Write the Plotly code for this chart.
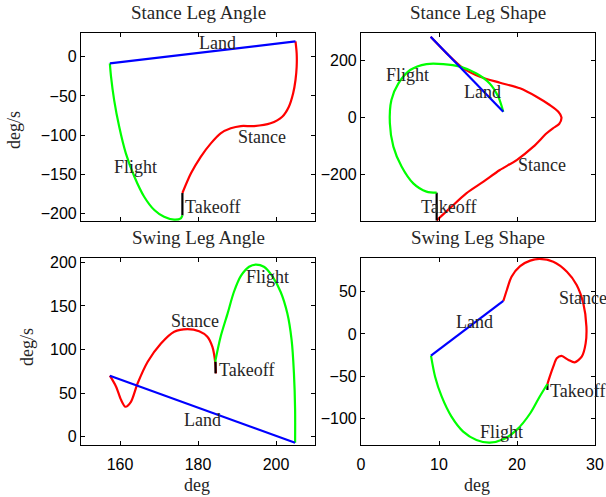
import plotly.graph_objects as go

# ---------------- data ----------------
# Stance Leg Angle (top-left): x = deg, y = deg/s
sla_stance_x = [205.0, 205.3, 205.3, 205.0, 204.4, 203.3, 201.6, 198.6, 194.4, 191.0, 188.4, 185.8, 183.3, 180.7, 178.2, 176.0]
sla_stance_y = [19.5, 4.3, -12.8, -29.7, -46.7, -63.8, -76.6, -85.0, -88.5, -88.5, -91.4, -97.8, -110.6, -127.7, -148.9, -174.0]
sla_takeoff_x = [176.0, 176.0]
sla_takeoff_y = [-174.0, -202.6]
sla_flight_x = [176.0, 175.6, 173.9, 171.3, 168.8, 166.2, 163.7, 161.5, 159.8, 158.5, 157.7, 157.4]
sla_flight_y = [-202.6, -206.3, -208.0, -204.3, -195.7, -178.7, -153.2, -123.3, -89.4, -55.3, -25.5, -8.5]
sla_land_x = [157.4, 205.0]
sla_land_y = [-8.5, 19.5]

# Stance Leg Shape (top-right)
sls_stance_x = [8.93, 10.99, 13.12, 15.26, 17.82, 20.38, 22.5, 24.2, 25.3, 25.7, 25.4, 24.6, 23.8, 22.1, 19.96, 17.8, 15.7, 13.5, 11.4, 9.7]
sls_stance_y = [282.8, 224.6, 171.9, 142.5, 121.4, 101.8, 72.3, 43.2, 19.6, 0.0, -23.5, -38.6, -56.0, -103.0, -150.0, -185.0, -226.0, -267.0, -319.0, -362.0]
sls_takeoff_x = [9.7, 9.7]
sls_takeoff_y = [-362.0, -264.6]
sls_flight_x = [9.7, 8.4, 6.7, 5.2, 4.15, 3.7, 3.9, 4.8, 6.3, 8.4, 10.55, 12.7, 14.8, 16.5, 17.6, 18.24]
sls_flight_y = [-264.6, -261.0, -232.0, -173.0, -103.0, -21.0, 61.0, 119.0, 166.0, 187.0, 187.0, 178.0, 154.0, 119.0, 72.0, 19.6]
sls_land_x = [18.24, 8.93]
sls_land_y = [19.6, 282.8]

# Swing Leg Angle (bottom-left)
swa_stance_x = [157.4, 159.0, 160.3, 161.4, 162.8, 164.5, 167.1, 170.5, 173.9, 177.3, 180.3, 182.4, 183.7, 184.4, 184.6]
swa_stance_y = [70.0, 57.4, 42.0, 34.4, 40.0, 61.0, 86.0, 107.0, 120.5, 123.5, 121.0, 114.7, 103.0, 86.0, 72.7]
swa_takeoff_x = [184.5, 184.5]
swa_takeoff_y = [72.7, 86.0]
swa_flight_x = [184.4, 185.8, 187.6, 189.2, 191.0, 193.1, 194.8, 196.9, 199.0, 201.2, 202.9, 204.0, 204.6, 204.9, 204.9]
swa_flight_y = [86.0, 114.7, 141.5, 166.0, 184.5, 195.0, 197.5, 195.0, 184.5, 166.0, 141.5, 111.0, 72.7, 30.6, -6.9]
swa_land_x = [204.9, 157.4]
swa_land_y = [-6.9, 70.0]

# Swing Leg Shape (bottom-right)
sws_stance_x = [18.25, 18.7, 19.3, 20.4, 21.7, 22.9, 24.65, 26.4, 27.65, 28.5, 28.9, 28.8, 28.3, 27.4, 26.6, 25.7, 25.1, 24.65, 24.2, 23.9]
sws_stance_y = [38.9, 51.8, 67.5, 80.0, 86.4, 88.3, 85.2, 73.4, 57.7, 36.1, 8.6, -11.0, -26.7, -33.4, -30.6, -25.9, -28.7, -38.5, -50.3, -58.9]
sws_takeoff_x = [23.9, 23.9]
sws_takeoff_y = [-58.9, -66.0]
sws_flight_x = [23.9, 22.9, 21.7, 19.96, 18.25, 16.5, 14.8, 13.1, 11.6, 10.35, 9.5, 8.97]
sws_flight_y = [-58.9, -73.9, -93.4, -113.0, -124.0, -128.0, -124.9, -115.0, -97.4, -73.9, -50.3, -25.5]
sws_land_x = [8.97, 18.25]
sws_land_y = [-25.5, 38.9]

panel_titles = ["Stance Leg Angle", "Stance Leg Shape", "Swing Leg Angle", "Swing Leg Shape"]
phase_labels = ["Stance", "Takeoff", "Flight", "Land"]

# label positions (data coordinates) per panel: Stance, Takeoff, Flight, Land
label_pos = [
    [(196.4, -102.5), (183.6, -192.0), (164.0, -141.0), (184.9, 18.0)],
    [(23.2, -166.0), (11.2, -315.0), (6.0, 147.0), (15.6, 89.0)],
    [(179.3, 132.6), (192.5, 76.6), (197.8, 183.0), (181.2, 19.4)],
    [(28.4, 42.0), (27.8, -66.7), (17.95, -115.0), (14.5, 13.7)],
]

x_ranges = [[150, 210], [0, 30], [150, 210], [0, 30]]
y_ranges = [[-209.7, 30.3], [-364, 296], [-9.5, 205], [-130.8, 89.5]]
x_ticks = [[160, 180, 200], [0, 10, 20, 30], [160, 180, 200], [0, 10, 20, 30]]
y_ticks = [[-200, -150, -100, -50, 0], [-200, 0, 200], [0, 50, 100, 150, 200], [-100, -50, 0, 50]]

# ---------------- figure ----------------
W, H = 606, 497
colors = {"Stance": "#ff0000", "Takeoff": "#000000", "Flight": "#00ff00", "Land": "#0000ff"}

panels = [
    [(sla_stance_x, sla_stance_y), (sla_takeoff_x, sla_takeoff_y), (sla_flight_x, sla_flight_y), (sla_land_x, sla_land_y)],
    [(sls_stance_x, sls_stance_y), (sls_takeoff_x, sls_takeoff_y), (sls_flight_x, sls_flight_y), (sls_land_x, sls_land_y)],
    [(swa_stance_x, swa_stance_y), (swa_takeoff_x, swa_takeoff_y), (swa_flight_x, swa_flight_y), (swa_land_x, swa_land_y)],
    [(sws_stance_x, sws_stance_y), (sws_takeoff_x, sws_takeoff_y), (sws_flight_x, sws_flight_y), (sws_land_x, sws_land_y)],
]

# pixel boxes (left, top, right, bottom)
boxes = [(81, 33, 315, 221), (361, 33, 595, 221), (81, 258, 315, 445), (361, 258, 595, 445)]

fig = go.Figure()
serif = "Liberation Serif"
sans = "Liberation Sans"
txtcol = "#262626"

for i, segs in enumerate(panels):
    sfx = "" if i == 0 else str(i + 1)
    for name, (xs, ys) in zip(phase_labels, segs):
        shape = "linear" if name in ("Takeoff", "Land") else "spline"
        fig.add_trace(go.Scatter(
            x=xs, y=ys, mode="lines", xaxis="x" + sfx, yaxis="y" + sfx,
            line=dict(color=colors[name], width=2.2, shape=shape, smoothing=0.8),
            showlegend=False, hoverinfo="skip"))
    l, t, r, b = boxes[i]
    axcommon = dict(showline=True, linecolor="black", linewidth=1.2, mirror="allticks",
                    ticks="inside", ticklen=4, tickcolor="black", showgrid=False, zeroline=False,
                    automargin=False, tickfont=dict(family=sans, size=16, color="black"))
    fig.update_layout(**{
        "xaxis" + sfx: dict(domain=[l / W, r / W], range=x_ranges[i], tickvals=x_ticks[i],
                            ticktext=[str(v) for v in x_ticks[i]], ticklabelstandoff=5,
                            showticklabels=(i >= 2), anchor="y" + sfx, **axcommon),
        "yaxis" + sfx: dict(domain=[1 - b / H, 1 - t / H], range=y_ranges[i], tickvals=y_ticks[i],
                            ticktext=[str(v).replace("-", "\u2212") for v in y_ticks[i]],
                            anchor="x" + sfx, **axcommon),
    })
    # phase labels
    for name, (px, py) in zip(phase_labels, label_pos[i]):
        fig.add_annotation(x=px, y=py, xref="x" + sfx, yref="y" + sfx, text=name, showarrow=False,
                           xanchor="center", yanchor="middle",
                           font=dict(family=serif, size=18, color=txtcol))
    # panel title
    fig.add_annotation(x=(l + r) / 2 / W, y=1 - (t - 21) / H, xref="paper", yref="paper",
                       text=panel_titles[i], showarrow=False, xanchor="center", yanchor="middle",
                       font=dict(family=serif, size=19, color=txtcol))

# axis titles
for (ax_x, ax_y, txt, ang) in [(14, 130, "deg/s", -90), (27, 347, "deg/s", -90),
                               (197, 485, "deg", 0), (477, 485, "deg", 0)]:
    fig.add_annotation(x=ax_x / W, y=1 - ax_y / H, xref="paper", yref="paper", text=txt, textangle=ang,
                       showarrow=False, xanchor="center", yanchor="middle",
                       font=dict(family=serif, size=18, color=txtcol))

fig.update_layout(width=W, height=H, margin=dict(l=0, r=0, t=0, b=0, autoexpand=False),
                  paper_bgcolor="white", plot_bgcolor="white")

fig.write_html("out.html", config={"displayModeBar": False, "responsive": False},
               post_script="document.body.style.margin='0px';document.body.style.overflow='hidden';")
